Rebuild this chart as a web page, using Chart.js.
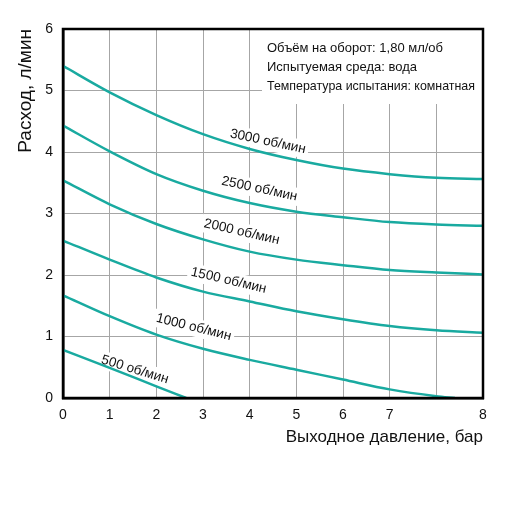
<!DOCTYPE html>
<html lang="ru">
<head>
<meta charset="utf-8">
<title>Расход / выходное давление</title>
<script src="https://cdn.jsdelivr.net/npm/chart.js@4.4.1/dist/chart.umd.min.js"></script>
<style>
    body { margin: 0; background: #fff; }
    #wrap { width: 512px; height: 510px; }
</style>
</head>
<body>
<div id="wrap"><canvas id="flow-chart" width="512" height="510"></canvas></div>
<script>
// x axis: grid positions, the last gridline is labelled "8"
const xTickLabels = ['0', '1', '2', '3', '4', '5', '6', '7', '', '8'];
const xSteps = [0, 1, 2, 3, 4, 5, 6, 7, 8, 9];

// flow, l/min, read at each grid position
const flow3000 = [5.40, 4.97, 4.60, 4.29, 4.05, 3.87, 3.73, 3.64, 3.58, 3.56];
const flow2500 = [4.43, 4.01, 3.64, 3.37, 3.17, 3.03, 2.94, 2.86, 2.82, 2.80];
const flow2000 = [3.54, 3.15, 2.83, 2.58, 2.38, 2.25, 2.16, 2.08, 2.04, 2.01];
const flow1500 = [2.56, 2.25, 1.96, 1.73, 1.57, 1.41, 1.28, 1.17, 1.10, 1.06];
const flow1000 = [1.67, 1.33, 1.03, 0.80, 0.62, 0.46, 0.30, 0.14, 0.03, 0];
const flow1000X = [0, 1, 2, 3, 4, 5, 6, 7, 8, 8.4];
const flow500 = [0.78, 0.49, 0.19, 0];
const flow500X = [0, 1, 2, 2.64];

const speedLabels = ['3000 об/мин', '2500 об/мин', '2000 об/мин', '1500 об/мин', '1000 об/мин', '500 об/мин'];
// where each speed label sits (axis units) and its tilt in degrees
const labelX = [4.39, 4.21, 3.83, 3.55, 2.80, 1.54];
const labelY = [4.17, 3.40, 2.70, 1.91, 1.15, 0.46];
const labelAngle = [12, 12, 13, 13, 14, 17];

const noteLines = ['Объём на оборот: 1,80 мл/об', 'Испытуемая среда: вода', 'Температура испытания: комнатная'];

const lineColor = '#19aaa0';
const fontFamily = '"Liberation Sans", Arial, sans-serif';

function toPoints(xs, ys) {
    return ys.map((y, i) => ({ x: xs[i], y: y }));
}

function curve(xs, ys) {
    return {
        data: toPoints(xs, ys),
        borderColor: lineColor,
        borderWidth: 2.5,
        pointRadius: 0,
        fill: false,
        cubicInterpolationMode: 'monotone'
    };
}

// white boxes behind texts, then the texts themselves
const overlayPlugin = {
    id: 'overlay',
    beforeDatasetsDraw(chart) {
        const ctx = chart.ctx;
        const area = chart.chartArea;
        ctx.save();
        ctx.fillStyle = '#fff';
        ctx.fillRect(area.left + 199, area.top + 1, area.right - area.left - 200, 74);
        ctx.font = '13.5px ' + fontFamily;
        speedLabels.forEach((text, i) => {
            const px = chart.scales.x.getPixelForValue(labelX[i]);
            const py = chart.scales.y.getPixelForValue(labelY[i]);
            const w = ctx.measureText(text).width;
            ctx.save();
            ctx.translate(px, py);
            ctx.rotate(labelAngle[i] * Math.PI / 180);
            ctx.fillRect(-w / 2 - 3, -9, w + 6, 18);
            ctx.restore();
        });
        ctx.restore();
    },
    afterDatasetsDraw(chart) {
        const ctx = chart.ctx;
        const area = chart.chartArea;
        ctx.save();
        ctx.fillStyle = '#111';
        ctx.font = '13.5px ' + fontFamily;
        ctx.textAlign = 'center';
        ctx.textBaseline = 'middle';
        speedLabels.forEach((text, i) => {
            const px = chart.scales.x.getPixelForValue(labelX[i]);
            const py = chart.scales.y.getPixelForValue(labelY[i]);
            ctx.save();
            ctx.translate(px, py);
            ctx.rotate(labelAngle[i] * Math.PI / 180);
            ctx.fillText(text, 0, 0);
            ctx.restore();
        });
        ctx.textAlign = 'left';
        ctx.font = '13px ' + fontFamily;
        noteLines.forEach((text, i) => {
            ctx.fillText(text, area.left + 204, area.top + 19 + i * 19, 208);
        });
        // frame round the plot
        ctx.strokeStyle = '#000';
        ctx.lineWidth = 2.5;
        ctx.strokeRect(area.left, area.top, area.right - area.left, area.bottom - area.top);
        ctx.restore();
    }
};

new Chart(document.getElementById('flow-chart'), {
    type: 'line',
    data: {
        datasets: [
            curve(xSteps, flow3000),
            curve(xSteps, flow2500),
            curve(xSteps, flow2000),
            curve(xSteps, flow1500),
            curve(flow1000X, flow1000),
            curve(flow500X, flow500)
        ]
    },
    options: {
        responsive: false,
        animation: false,
        layout: { padding: { top: 29, right: 29, left: 0, bottom: 0 } },
        plugins: {
            legend: { display: false },
            tooltip: { enabled: false }
        },
        scales: {
            x: {
                type: 'linear',
                min: 0,
                max: 9,
                afterFit: (scale) => { scale.height = 112; },
                ticks: {
                    stepSize: 1,
                    padding: 9,
                    color: '#111',
                    font: { family: fontFamily, size: 14 },
                    callback: (value) => xTickLabels[value]
                },
                grid: { color: '#a6a6a6', lineWidth: 1, drawTicks: false },
                border: { color: '#000', width: 2.5 },
                title: {
                    display: true,
                    text: 'Выходное давление, бар',
                    align: 'end',
                    color: '#111',
                    font: { family: fontFamily, size: 17 },
                    padding: { top: 4, bottom: 62 }
                }
            },
            y: {
                min: 0,
                max: 6,
                afterFit: (scale) => { scale.width = 63; },
                ticks: {
                    stepSize: 1,
                    padding: 10,
                    color: '#111',
                    font: { family: fontFamily, size: 14 }
                },
                grid: { color: '#a6a6a6', lineWidth: 1, drawTicks: false },
                border: { color: '#000', width: 2.5 },
                title: {
                    display: true,
                    text: 'Расход, л/мин',
                    align: 'end',
                    color: '#111',
                    font: { family: fontFamily, size: 19 },
                    padding: { top: 14, bottom: 0 }
                }
            }
        }
    },
    plugins: [overlayPlugin]
});
</script>
</body>
</html>
